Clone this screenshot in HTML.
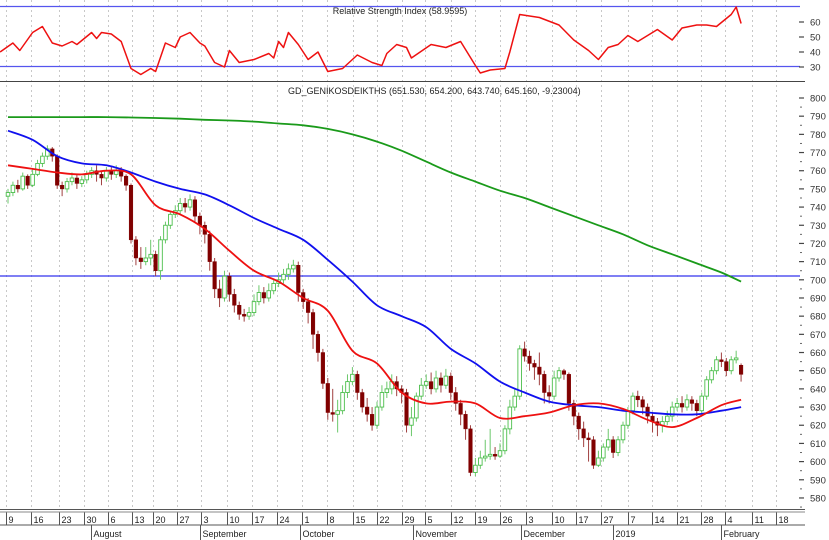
<!DOCTYPE html>
<html><head><meta charset="utf-8"><style>
html,body{margin:0;padding:0;background:#fff;}
svg{display:block;font-family:"Liberation Sans",sans-serif;}
</style></head><body>
<svg id="chart" width="829" height="540" viewBox="0 0 829 540" xmlns="http://www.w3.org/2000/svg">
<rect x="0" y="0" width="829" height="540" fill="#fff"/>
<g id="grid"></g>
<g id="rsi">
<line x1="0" y1="6.5" x2="800" y2="6.5" stroke="#5555ee" stroke-width="1.3"/>
<line x1="0" y1="66.5" x2="800" y2="66.5" stroke="#5555ee" stroke-width="1.3"/>
<text x="400" y="14" font-size="9" text-anchor="middle" fill="#222">Relative Strength Index (58.9595)</text>
</g>
<line x1="0" y1="81.5" x2="805" y2="81.5" stroke="#444" stroke-width="1"/>
<text x="288" y="94" font-size="9" fill="#222">GD_GENIKOSDEIKTHS (651.530, 654.200, 643.740, 645.160, -9.23004)</text>
<line x1="0" y1="276" x2="800" y2="276" stroke="#3333ee" stroke-width="1.2"/>
<g id="marks"></g>
<g id="axes"></g>
</svg>
<script>
const closes=[748,752,750,757,752,758,764,768,772,768,
752,750,754,756,753,755,758,760,758,756,
760,758,760,757,752,722,712,710,712,714,
705,722,730,736,738,742,740,744,735,730,
725,710,695,690,702,692,686,681,680,682,
688,693,690,694,698,700,703,706,708,693,
688,682,670,660,643,627,626,628,638,644,
648,638,630,626,620,630,638,640,644,640,
638,620,624,636,642,644,640,646,642,647,
638,632,626,618,594,598,602,603,604,603,
606,618,630,636,662,658,654,652,648,638,
636,646,650,648,632,625,618,613,612,598,
602,608,612,605,612,620,628,636,634,630,
625,622,620,622,625,630,632,630,634,632,
628,636,645,650,656,655,650,656,657,648];
const opens=[746,748,752,750,757,752,758,764,768,772,
768,752,750,754,756,753,755,758,760,758,
756,760,758,760,757,752,722,712,710,712,
714,705,722,730,736,738,742,740,744,735,
730,725,710,695,690,702,692,686,681,680,
682,688,693,690,694,698,700,703,706,708,
693,688,682,670,660,643,627,626,628,638,
644,648,638,630,626,620,630,638,640,644,
640,638,620,624,636,642,644,640,646,642,
647,638,632,626,618,594,598,602,603,604,
603,606,618,630,636,662,658,654,652,648,
638,636,646,650,648,632,625,618,613,612,
598,602,608,612,605,612,620,628,636,634,
630,625,622,620,622,625,630,632,630,634,
632,628,636,645,650,656,655,650,656,653];
const highs=[750,754,755,759,758,761,766,770,774,773,
769,754,756,759,758,757,760,762,763,760,
762,762,763,762,758,753,724,718,718,722,
716,724,732,738,741,745,745,747,746,737,
732,727,712,700,705,704,695,688,684,685,
692,697,696,698,700,704,706,709,711,710,
695,690,684,672,662,646,640,634,642,648,
652,650,640,635,630,633,642,644,648,647,
642,640,630,638,646,648,649,650,649,651,
649,641,634,628,620,602,606,612,618,608,
610,620,634,640,664,666,661,656,660,650,
642,650,652,651,649,634,627,622,616,614,
606,610,618,614,614,622,630,638,639,636,
632,627,624,625,628,633,635,636,637,636,
634,638,647,652,658,660,657,658,661,654];
const lows=[742,746,748,749,750,751,757,762,766,765,
750,746,748,752,750,751,753,756,754,752,
754,755,756,754,749,720,708,706,708,708,
702,700,720,728,734,736,737,738,732,725,
720,705,690,685,688,688,682,678,677,678,
680,686,687,688,692,696,698,700,704,688,
684,676,662,655,640,623,622,616,626,635,
642,634,627,622,617,618,628,635,637,636,
632,616,614,622,634,640,637,638,638,640,
634,628,620,612,592,592,596,600,601,601,
602,604,615,628,634,655,650,645,642,632,
632,634,644,645,628,620,612,608,600,596,
597,600,606,602,603,610,618,626,630,626,
621,616,614,616,620,622,628,627,628,628,
625,626,634,643,648,652,647,648,654,644];
const maIdx=[0,5,10,15,20,25,30,35,40,45,50,55,60,65,70,75,80,85,90,95,100,105,110,115,120,125,130,135,140,145,149];
const ma20=[763,761,759,758,760,758,741,736,728,716,705,699,690,683,661,654,638,632,633,632,624,625,627,631,632,629,623,619,624,631,634];
const ma50=[782,777,768,764,763,759,754,750,747,741,734,728,722,711,699,686,680,674,662,654,644,638,633,631,630,628,627,626,626,628,630];
const ma200=[789.5,789.5,789.5,789.5,789.5,789.3,789,788.6,788,787.6,787,786,785,783,780,776,771,765,759,754,749,745,740,735,730,725,719,714,709,704,699];
const rsiIdx=[-1.6,1,2.4,5,7,9,11,13,14,17,18,19,21,23,25,27,29,30,32,34,35,37,39,40,42,44,45,47,50,53,54,55,56,57,59,61,63,65,68,71,74,76,77,79,81,82,86,89,92,95,96,98,101,102,104,108,112,115,118,120,122,124,126,128,132,135,137,140,142,144,147,148,149];
const rsiVal=[40,46,41,53,57,46,44,47,45,53,49,53,52,47,29,25,29,27,46,43,50,53,46,44,33,30,41,33,35,39,36,47,43,53,45,35,40,27,29,38,33,31,39,45,43,36,45,43,47,31,26,28,29,40,65,63,58,48,41,35,43,45,51,47,55,48,56,58,58,57,65,70,59];
const priceTicks=[800,790,780,770,760,750,740,730,720,710,700,690,680,670,660,650,640,630,620,610,600,590,580];
const rsiTicks=[60,50,40,30];
const dateLabels=["9","16","23","30","6","13","20","27","3","10","17","24","1","8","15","22","29","5","12","19","26","3","10","17","27","7","14","21","28","4","11","18"];
const dateIdx=[0,5,10.7,15.8,20.7,25.6,29.9,34.8,39.6,44.9,50,55.1,60.2,65.2,70.5,75.4,80.5,85.1,90.4,95.3,100.4,105.7,111,115.8,120.9,126.4,131.3,136.4,141.2,146.1,151.6,156.5];
const monthLabels=["August","September","October","November","December","2019","February"];
const monthIdx=[17.3,39.4,59.8,82.7,104.7,123.4,145.3];

const NS="http://www.w3.org/2000/svg";
const xOf=i=>8+4.92*i;
const yP=v=>98+(800-v)*1.818;
const yR=v=>67-(v-30)*1.5;
function mk(tag,attrs,parent){const e=document.createElementNS(NS,tag);for(const k in attrs)e.setAttribute(k,attrs[k]);parent.appendChild(e);return e;}
const grid=document.getElementById('grid'),marks=document.getElementById('marks'),axes=document.getElementById('axes'),rsi=document.getElementById('rsi');

dateIdx.forEach((d,k)=>{
  const gx=Math.round(xOf(d))-1.5;
  const g=mk('line',{x1:gx,y1:0,x2:gx,y2:508,stroke:'#c8c8c8','stroke-width':1,'stroke-dasharray':'2,3'},grid);
  
  
  const t=mk('line',{x1:gx,y1:512,x2:gx,y2:525,stroke:'#555','stroke-width':1},axes);
  
  
  const lb=mk('text',{x:gx+2,y:523,'font-size':9,fill:'#222'},axes);
  lb.textContent=dateLabels[k];
  
  
});
monthIdx.forEach((m,k)=>{
  const mx=Math.round(xOf(m))-1.5;
  const t=mk('line',{x1:mx,y1:525,x2:mx,y2:540,stroke:'#555','stroke-width':1},axes);
  
  
  const lb=mk('text',{x:mx+2,y:537,'font-size':9,fill:'#222'},axes);
  lb.textContent=monthLabels[k];
  
  
});
const a1=mk('line',{x1:0,y1:509.5,x2:805,y2:509.5,stroke:'#555','stroke-width':1},axes);


const a2=mk('line',{x1:0,y1:512,x2:805,y2:512,stroke:'#888','stroke-width':1},axes);


const a3=mk('line',{x1:0,y1:525,x2:805,y2:525,stroke:'#555','stroke-width':1},axes);



priceTicks.forEach(v=>{
  const y=yP(v);
  const t=mk('line',{x1:799,y1:y,x2:804,y2:y,stroke:'#444','stroke-width':1.2},axes);
  
  
  const m=mk('line',{x1:800,y1:y+9.1,x2:802,y2:y+9.1,stroke:'#666','stroke-width':1},axes);
  
  
  const lb=mk('text',{x:810,y:y+3.5,'font-size':9.5,fill:'#333'},axes);
  lb.textContent=v;
  
  
});
rsiTicks.forEach(v=>{
  const y=yR(v);
  const t=mk('line',{x1:799,y1:y,x2:804,y2:y,stroke:'#444','stroke-width':1.2},axes);
  
  
  const lb=mk('text',{x:810,y:y+3.5,'font-size':9.5,fill:'#333'},axes);
  lb.textContent=v;
  
  
});

function line(idx,vals,yf,color,w,name,parent){
  const pts=idx.map((d,k)=>xOf(d).toFixed(1)+','+yf(vals[k]).toFixed(1)).join(' ');
  const p=mk('polyline',{points:pts,fill:'none',stroke:color,'stroke-width':w,'stroke-linejoin':'round'},parent);
  
  
}
function smooth(idx,vals,yf,color,w,name,parent){
  const P=idx.map((d,k)=>[xOf(d),yf(vals[k])]);
  let d='M'+P[0][0].toFixed(1)+','+P[0][1].toFixed(1);
  for(let k=0;k<P.length-1;k++){
    const p0=P[Math.max(0,k-1)],p1=P[k],p2=P[k+1],p3=P[Math.min(P.length-1,k+2)];
    const c1=[p1[0]+(p2[0]-p0[0])/6,p1[1]+(p2[1]-p0[1])/6];
    const c2=[p2[0]-(p3[0]-p1[0])/6,p2[1]-(p3[1]-p1[1])/6];
    d+=' C'+c1.map(n=>n.toFixed(1)).join(',')+' '+c2.map(n=>n.toFixed(1)).join(',')+' '+p2[0].toFixed(1)+','+p2[1].toFixed(1);
  }
  const p=mk('path',{d:d,fill:'none',stroke:color,'stroke-width':w,'stroke-linejoin':'round'},parent);
  
  
}
line(rsiIdx,rsiVal,yR,'#ee1111',1.5,'rsi-line',rsi);

closes.forEach((c,i)=>{
  const o=opens[i],x=xOf(i),up=c>=o;
  const col=up?'#3cb83c':'#800000';
  const w=mk('line',{x1:x,y1:yP(highs[i]),x2:x,y2:yP(lows[i]),stroke:up?'#6cc86c':'#a04040','stroke-width':1},marks);
  
  
  const top=yP(Math.max(o,c)),bot=yP(Math.min(o,c));
  const b=mk('rect',{x:x-1.8,y:top,width:3.6,height:Math.max(1,bot-top),fill:up?'#fff':col,stroke:up?'#4cbf4c':col,'stroke-width':up?0.9:0.5},marks);
  
  
});
smooth(maIdx,ma200,yP,'#1a9a1a',1.8,'ma-200-line',marks);
smooth(maIdx,ma50,yP,'#1010ee',1.8,'ma-50-line',marks);
smooth(maIdx,ma20,yP,'#ee1111',1.8,'ma-20-line',marks);
</script>
</body></html>
